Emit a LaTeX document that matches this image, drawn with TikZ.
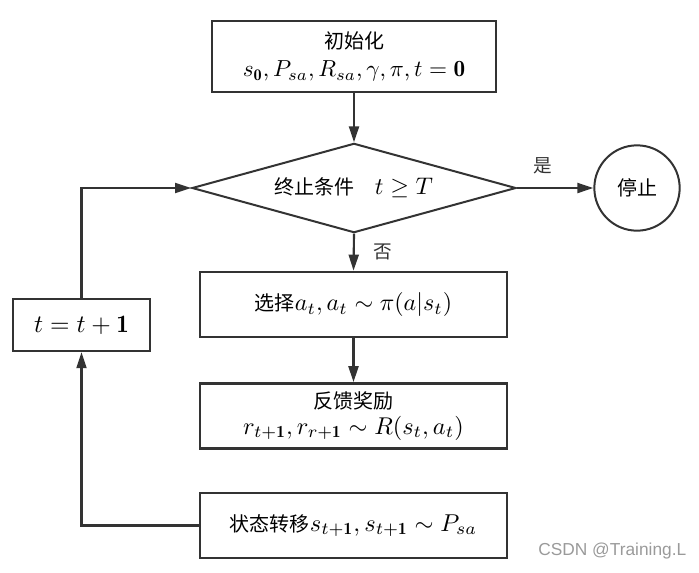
\documentclass[tikz,border=0pt]{standalone}
\usepackage{amsmath}
\usepackage{amssymb}
\usepackage{fontspec}
\newfontfamily\cjk{Noto Sans CJK SC}
\newfontfamily\wmfont{Liberation Sans}
\usepackage{tikz}
\usetikzlibrary{shapes.geometric,arrows.meta}
\definecolor{flowLine}{HTML}{333333}
\definecolor{markGray}{HTML}{9A9A9A}
% math scaled up inside a node
\newcommand{\msz}[2]{{\fontsize{10}{12}\selectfont\scalebox{#1}{$#2$}}}

\begin{document}
\begin{tikzpicture}[
    x=0.75pt, y=-0.75pt,
    procbox/.style  = {draw=flowLine, line width=1.8pt, fill=white, align=center, inner sep=2pt,
                       font=\cjk\fontsize{15}{20}\selectfont},
    decbox/.style   = {draw=flowLine, line width=1.5pt, shape=diamond, aspect=3.5, inner sep=0pt,
                       minimum width=243pt, minimum height=67pt, font=\cjk\fontsize{15}{20}\selectfont},
    endcirc/.style  = {draw=flowLine, line width=1.5pt, circle, minimum size=64pt, inner sep=0pt,
                       font=\cjk\fontsize{15}{20}\selectfont},
    flow/.style     = {draw=flowLine, line width=1.6pt, -{Triangle[length=12pt,width=7.5pt]}},
    branchlbl/.style= {font=\cjk\fontsize{14}{18}\selectfont, text=flowLine},
    watermark/.style= {font=\wmfont\fontsize{13}{16}\selectfont, text=markGray, anchor=east}
  ]
  \useasboundingbox (0,0) rectangle (699,572);

  % main column
  \node[procbox, minimum width=213pt, minimum height=53pt] (init) at (354,56.5)
    {初始化\\[1pt]\msz{1.74}{s_{\mathbf{0}}, P_{sa}, R_{sa}, \gamma, \pi, t=\mathbf{0}}};
  \node[decbox] (cond) at (354,188) {终止条件\quad\msz{1.8}{t \geq T}};
  \node[endcirc] (stop) at (637,188) {停止};
  \node[procbox, minimum width=230pt, minimum height=49pt] (choose) at (353.5,304.5)
    {选择\msz{1.8}{a_t, a_t \sim \pi(a|s_t)}};
  \node[procbox, minimum width=230pt, minimum height=49pt] (reward) at (353.5,416)
    {反馈奖励\\[-1pt]\msz{1.82}{r_{t+\mathbf{1}}, r_{r+\mathbf{1}} \sim R(s_t, a_t)}};
  \node[procbox, minimum width=230pt, minimum height=49pt] (trans) at (353.5,525.5)
    {状态转移\msz{1.83}{s_{t+\mathbf{1}}, s_{t+\mathbf{1}} \sim P_{sa}}};

  % loop back
  \node[procbox, minimum width=103pt, minimum height=39pt] (incr) at (81.5,325)
    {\msz{1.88}{t=t+\mathbf{1}}};

  \draw[flow] (init) -- (cond);
  \draw[flow] (cond.east) -- (stop.west) node[branchlbl, pos=0.34, above=6pt] (yes) {是};
  \draw[flow] (cond.south) -- (choose.north) node[branchlbl, midway, right=11pt] (no) {否};
  \draw[flow] (choose) -- (reward);
  \draw[flow] (trans.west) -| (incr.south);
  \draw[flow] (incr.north) |- (cond.west);

  \node[watermark] (mark) at (691,551) {CSDN @Training.L};
\end{tikzpicture}
\end{document}
